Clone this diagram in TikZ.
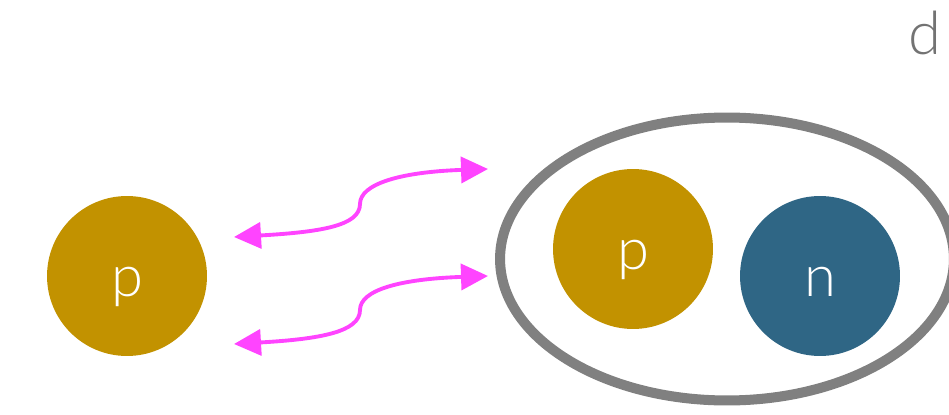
\documentclass[tikz,border=0pt]{standalone}
\usepackage{fontspec}
\setmainfont{Lato}[UprightFont=* Light]
\usepackage{xcolor}
\usetikzlibrary{arrows.meta,shapes.geometric}
\definecolor{gold}{HTML}{C29200}
\definecolor{teal}{HTML}{2F6685}
\definecolor{pinkline}{HTML}{FF44FF}
\definecolor{rim}{HTML}{808080}
\begin{document}
\begin{tikzpicture}[x=0.02cm,y=-0.02cm,
        particle/.style={circle,minimum size=3.2cm,inner sep=0pt,text=white,text height=0.84cm,text depth=0pt,font=\fontsize{33}{33}\selectfont},
        swap/.style={pinkline,line width=2.2pt,{Triangle[length=5.4mm,width=5.2mm]}-{Triangle[length=5.4mm,width=5.2mm]}}]
            \useasboundingbox (0,0) rectangle (949,415);
            \clip (0,0) rectangle (949,415);
            \node[particle,fill=gold] (pfree) at (127,276) {p};
            \node[draw=rim,line width=5.7pt,ellipse,minimum width=9.08cm,minimum height=5.66cm] (bag) at (727,259) {};
            \node[particle,fill=gold] (pbound) at (633,249) {p};
            \node[particle,fill=teal] (nbound) at (820,276) {n};
            \node[text=rim!90!black,font=\fontsize{34}{34}\selectfont,anchor=base] (dlabel) at (925,55) {d};
            \coordinate (aL) at (234,237);
            \coordinate (aM) at (360,204);
            \coordinate (aR) at (488,169);
            \coordinate (bL) at (234,344);
            \coordinate (bM) at (360,310);
            \coordinate (bR) at (488,276);
            \draw[swap] (aL) .. controls (320,232) and (360,226) .. (aM) .. controls (360,184) and (400,172) .. (aR);
            \draw[swap] (bL) .. controls (320,339) and (360,332) .. (bM) .. controls (360,290) and (400,279) .. (bR);
        \end{tikzpicture}
\end{document}
